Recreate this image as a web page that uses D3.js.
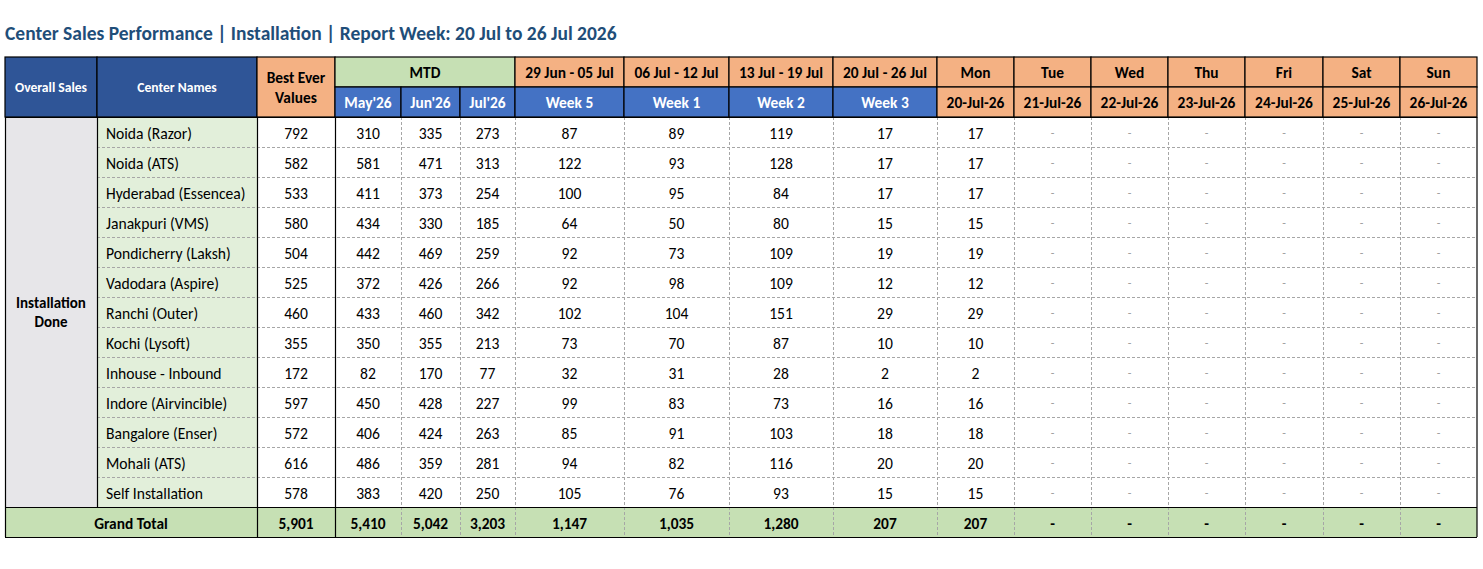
<!DOCTYPE html>
<html>
<head>
<meta charset="utf-8">
<script src="https://cdn.jsdelivr.net/npm/d3@7"></script>
<style>
  body { margin: 0; background: #fff; }
  text { font-family: Calibri, Carlito, Lato, sans-serif; }
</style>
</head>
<body>
<script>
// General constants
const WIDTH = 1483;
const HEIGHT = 569;

const title = "Center Sales Performance | Installation | Report Week: 20 Jul to 26 Jul 2026";
const groupLabel = ["Installation", "Done"];
const centers = ["Noida (Razor)", "Noida (ATS)", "Hyderabad (Essencea)", "Janakpuri (VMS)",
  "Pondicherry (Laksh)", "Vadodara (Aspire)", "Ranchi (Outer)", "Kochi (Lysoft)",
  "Inhouse - Inbound", "Indore (Airvincible)", "Bangalore (Enser)", "Mohali (ATS)", "Self Installation"];
const bestEver = [792, 582, 533, 580, 504, 525, 460, 355, 172, 597, 572, 616, 578];
const may26 = [310, 581, 411, 434, 442, 372, 433, 350, 82, 450, 406, 486, 383];
const jun26 = [335, 471, 373, 330, 469, 426, 460, 355, 170, 428, 424, 359, 420];
const jul26 = [273, 313, 254, 185, 259, 266, 342, 213, 77, 227, 263, 281, 250];
const week5 = [87, 122, 100, 64, 92, 92, 102, 73, 32, 99, 85, 94, 105];
const week1 = [89, 93, 95, 50, 73, 98, 104, 70, 31, 83, 91, 82, 76];
const week2 = [119, 128, 84, 80, 109, 109, 151, 87, 28, 73, 103, 116, 93];
const week3 = [17, 17, 17, 15, 19, 12, 29, 10, 2, 16, 18, 20, 15];
const mon = [17, 17, 17, 15, 19, 12, 29, 10, 2, 16, 18, 20, 15];
const empty = centers.map(() => null);
const grandTotal = [5901, 5410, 5042, 3203, 1147, 1035, 1280, 207, 207, null, null, null, null, null, null];

const monthLabels = ["May'26", "Jun'26", "Jul'26"];
const weekRanges = ["29 Jun - 05 Jul", "06 Jul - 12 Jul", "13 Jul - 19 Jul", "20 Jul - 26 Jul"];
const weekLabels = ["Week 5", "Week 1", "Week 2", "Week 3"];
const dayNames = ["Mon", "Tue", "Wed", "Thu", "Fri", "Sat", "Sun"];
const dayDates = ["20-Jul-26", "21-Jul-26", "22-Jul-26", "23-Jul-26", "24-Jul-26", "25-Jul-26", "26-Jul-26"];

// value columns in order (after the two label columns)
const valueCols = [bestEver, may26, jun26, jul26, week5, week1, week2, week3,
  mon, empty, empty, empty, empty, empty, empty];

/**
 * Layout: column widths and a band scale for the body rows
 */
const colWidths = [92, 160, 78, 66, 59, 55, 109, 105, 104, 104, 77, 77, 77, 77, 78, 77, 77];
const X0 = 5;
const colX = [X0];
colWidths.forEach(w => colX.push(colX[colX.length - 1] + w));
const tableRight = colX[colX.length - 1];

const HEAD_TOP = 57, HEAD_H = 30;
const BODY_TOP = HEAD_TOP + 2 * HEAD_H;
const ROW_H = 30;

const rowScale = d3.scaleBand()
  .domain(d3.range(centers.length + 1))
  .range([BODY_TOP, BODY_TOP + ROW_H * (centers.length + 1)]);

const gtY = rowScale(centers.length);
const tableBottom = gtY + ROW_H;

const fmt = d3.format(",");

const BODY_SIZE = 15.6;
const HEAD_SIZE = 15.4;

const C = {
  navy: "#2F5597", blue: "#4472C4", orange: "#F4B183", green: "#C6E0B4",
  lightGreen: "#E2EFDA", grey: "#E7E6E9", title: "#1F4E79", dash: "#A6A6A6"
};

const svg = d3.select("body").append("svg")
  .attr("width", WIDTH)
  .attr("height", HEIGHT);

svg.append("text")
  .attr("x", 5).attr("y", 40)
  .attr("font-size", 19.5).attr("font-weight", "bold")
  .attr("fill", C.title)
  .text(title);

/** Helper to draw a filled cell with centered (possibly multi-line) text */
function cell(x1, x2, y1, y2, fill, lines, opts = {}) {
  const g = svg.append("g");
  g.append("rect")
    .attr("x", x1).attr("y", y1)
    .attr("width", x2 - x1).attr("height", y2 - y1)
    .attr("fill", fill)
    .attr("stroke", opts.stroke || "none")
    .attr("stroke-width", 1.2);
  const ls = Array.isArray(lines) ? lines : [lines];
  const lh = opts.lineH || 19;
  const cy = (y1 + y2) / 2 - (ls.length - 1) * lh / 2;
  ls.forEach((t, i) => {
    g.append("text")
      .attr("x", (x1 + x2) / 2)
      .attr("y", cy + i * lh)
      .attr("dy", "0.36em")
      .attr("text-anchor", "middle")
      .attr("font-size", opts.size || HEAD_SIZE)
      .attr("font-weight", opts.bold ? "bold" : "normal")
      .attr("fill", opts.color || "#000")
      .text(t);
  });
  return g;
}

/** Body: background fills */
svg.append("rect").attr("x", colX[0]).attr("y", BODY_TOP)
  .attr("width", colX[1] - colX[0]).attr("height", gtY - BODY_TOP).attr("fill", C.grey);
svg.append("rect").attr("x", colX[1]).attr("y", BODY_TOP)
  .attr("width", colX[2] - colX[1]).attr("height", gtY - BODY_TOP).attr("fill", C.lightGreen);
svg.append("rect").attr("x", colX[0]).attr("y", gtY)
  .attr("width", tableRight - colX[0]).attr("height", ROW_H).attr("fill", C.green);

// group label
cell(colX[0], colX[1], BODY_TOP, gtY, "none", groupLabel, { bold: true, size: 15 });

// center names
svg.selectAll("text.center").data(centers).enter().append("text")
  .attr("class", "center")
  .attr("x", colX[1] + 9)
  .attr("y", (d, i) => rowScale(i) + ROW_H / 2 + 1)
  .attr("dy", "0.36em")
  .attr("font-size", BODY_SIZE)
  .text(d => d);

// numeric cells
valueCols.forEach((vals, c) => {
  const x = (colX[c + 2] + colX[c + 3]) / 2;
  svg.append("g").selectAll("text").data(vals).enter().append("text")
    .attr("x", x)
    .attr("y", (d, i) => rowScale(i) + ROW_H / 2 + 1)
    .attr("dy", "0.36em")
    .attr("text-anchor", "middle")
    .attr("font-size", d => d == null ? 12 : BODY_SIZE)
    .attr("fill", d => d == null ? "#A0A0A0" : "#000")
    .text(d => d == null ? "-" : fmt(d));
});

// dashed horizontal lines between body rows
svg.append("g").selectAll("line").data(d3.range(1, centers.length)).enter().append("line")
  .attr("x1", colX[1]).attr("x2", tableRight)
  .attr("y1", i => rowScale(i) + 0.5).attr("y2", i => rowScale(i) + 0.5)
  .attr("stroke", C.dash).attr("stroke-dasharray", "3,2");

// dashed vertical lines in body (after Best Ever column)
const dashedCols = d3.range(4, colX.length - 1);
svg.append("g").selectAll("line").data(dashedCols).enter().append("line")
  .attr("x1", c => colX[c] + 0.5).attr("x2", c => colX[c] + 0.5)
  .attr("y1", BODY_TOP).attr("y2", tableBottom)
  .attr("stroke", C.dash).attr("stroke-dasharray", "3,2");

/** Grand total row */
svg.append("text")
  .attr("x", (colX[0] + colX[2]) / 2).attr("y", gtY + ROW_H / 2 + 1).attr("dy", "0.36em")
  .attr("text-anchor", "middle").attr("font-size", HEAD_SIZE).attr("font-weight", "bold")
  .text("Grand Total");
svg.append("g").selectAll("text").data(grandTotal).enter().append("text")
  .attr("x", (d, c) => (colX[c + 2] + colX[c + 3]) / 2)
  .attr("y", gtY + ROW_H / 2 + 1).attr("dy", "0.36em")
  .attr("text-anchor", "middle").attr("font-size", HEAD_SIZE).attr("font-weight", "bold")
  .text(d => d == null ? "-" : fmt(d));

/** Header */
const H1 = HEAD_TOP, H2 = HEAD_TOP + HEAD_H, H3 = BODY_TOP;
const hs = { stroke: "#000", bold: true };
cell(colX[0], colX[1], H1, H3, C.navy, "Overall Sales", { ...hs, color: "#fff", size: 13.6 });
cell(colX[1], colX[2], H1, H3, C.navy, "Center Names", { ...hs, color: "#fff", size: 13.6 });
cell(colX[2], colX[3], H1, H3, C.orange, ["Best Ever", "Values"], { ...hs, lineH: 20 });
cell(colX[3], colX[6], H1, H2, C.green, "MTD", hs);
monthLabels.forEach((m, i) =>
  cell(colX[3 + i], colX[4 + i], H2, H3, C.blue, m, { ...hs, color: "#fff" }));
weekRanges.forEach((w, i) =>
  cell(colX[6 + i], colX[7 + i], H1, H2, C.orange, w, hs));
weekLabels.forEach((w, i) =>
  cell(colX[6 + i], colX[7 + i], H2, H3, C.blue, w, { ...hs, color: "#fff" }));
dayNames.forEach((d, i) => {
  cell(colX[10 + i], colX[11 + i], H1, H2, C.orange, d, hs);
  cell(colX[10 + i], colX[11 + i], H2, H3, C.orange, dayDates[i], hs);
});

/** Solid black borders */
const solid = svg.append("g").attr("stroke", "#000").attr("stroke-width", 1.2).attr("fill", "none");
[0, 1, 2, 3].forEach(c => solid.append("line")
  .attr("x1", colX[c] + 0.5).attr("x2", colX[c] + 0.5)
  .attr("y1", H3).attr("y2", c === 1 ? gtY : tableBottom));
solid.append("line").attr("x1", tableRight).attr("x2", tableRight)
  .attr("y1", H3).attr("y2", tableBottom);
[H3, gtY, tableBottom].forEach(y => solid.append("line")
  .attr("x1", colX[0]).attr("x2", tableRight)
  .attr("y1", y + 0.5).attr("y2", y + 0.5));
</script>
</body>
</html>
